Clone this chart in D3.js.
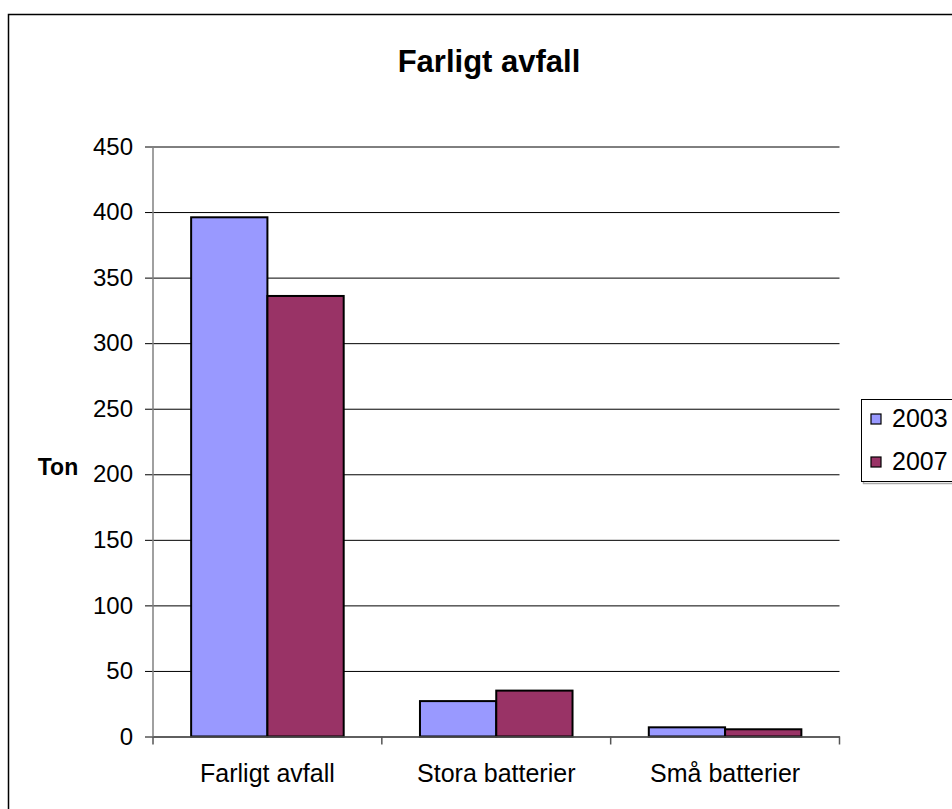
<!DOCTYPE html>
<html>
<head>
<meta charset="utf-8">
<script src="https://cdn.jsdelivr.net/npm/d3@7"></script>
<style>
  body { margin: 0; background: #fff; }
  text { font-family: "Liberation Sans", Arial, sans-serif; }
</style>
</head>
<body>
<script>
// chart data
var categories = ["Farligt avfall", "Stora batterier", "Små batterier"];
var years = ["2003", "2007"];
var values2003 = [396, 27, 7];
var values2007 = [336, 35, 5.5];
var yTicks = [0, 50, 100, 150, 200, 250, 300, 350, 400, 450];
var colors = ["#9999FF", "#993366"];

var w = 952, h = 809;

var svg = d3.select("body").append("svg")
    .attr("width", w)
    .attr("height", h);

svg.append("rect").attr("width", w).attr("height", h).attr("fill", "#fff");

// outer frame with a little shadow
svg.append("rect")
    .attr("x", 10.5).attr("y", 16.5)
    .attr("width", 1000).attr("height", 1000)
    .attr("fill", "none").attr("stroke", "#aaa").attr("stroke-width", 1.5);
svg.append("rect")
    .attr("x", 8.5).attr("y", 14.5)
    .attr("width", 1000).attr("height", 1000)
    .attr("fill", "#fff").attr("stroke", "#000").attr("stroke-width", 1.5);

// scales
var y = d3.scaleLinear().domain([0, 450]).range([736.5, 146.5]);
var x = d3.scaleBand().domain(categories).range([153, 839.5]).padding(0);
var xs = d3.scaleBand().domain(years)
    .range([x.bandwidth() / 6, x.bandwidth() * 5 / 6]);

// gridlines (with tick marks)
svg.append("g")
    .attr("transform", "translate(153,0)")
    .call(d3.axisLeft(y).tickValues(yTicks).tickSize(-(839.5 - 153)).tickFormat(""))
    .call(function(g) { g.select(".domain").remove(); })
    .call(function(g) { g.selectAll("line").attr("stroke", "#000").attr("x1", -8); });

// y tick labels
svg.append("g")
    .attr("transform", "translate(153,0)")
    .call(d3.axisLeft(y).tickValues(yTicks).tickSize(0).tickPadding(20))
    .call(function(g) { g.select(".domain").remove(); })
    .call(function(g) {
        g.selectAll("text")
            .attr("font-size", 24)
            .attr("fill", "#000")
            .style("font-family", "'Liberation Sans', Arial, sans-serif");
    });

// y axis line
svg.append("line")
    .attr("x1", 153).attr("x2", 153)
    .attr("y1", y(450)).attr("y2", y(0))
    .attr("stroke", "#808080").attr("stroke-width", 1.5);

// bars
var data = categories.map(function(c, i) {
    return { cat: c, vals: [values2003[i], values2007[i]] };
});

var groups = svg.selectAll(".grp")
    .data(data)
    .enter().append("g")
    .attr("class", "grp")
    .attr("transform", function(d) { return "translate(" + x(d.cat) + ",0)"; });

groups.selectAll("rect")
    .data(function(d) { return d.vals.map(function(v, i) { return { year: years[i], v: v, i: i }; }); })
    .enter().append("rect")
    .attr("x", function(d) { return xs(d.year); })
    .attr("width", xs.bandwidth())
    .attr("y", function(d) { return y(d.v); })
    .attr("height", function(d) { return y(0) - y(d.v); })
    .attr("fill", function(d) { return colors[d.i]; })
    .attr("stroke", "#000")
    .attr("stroke-width", 2);

// x axis
svg.append("g")
    .attr("transform", "translate(0," + y(0) + ")")
    .call(d3.axisBottom(x).tickSize(0).tickPadding(28))
    .call(function(g) { g.select(".domain").attr("stroke", "#555").attr("stroke-width", 1.5); })
    .call(function(g) {
        g.selectAll("text")
            .attr("font-size", 25)
            .attr("fill", "#000")
            .style("font-family", "'Liberation Sans', Arial, sans-serif");
    });

// x tick marks at band edges
svg.selectAll(".xtick")
    .data(categories.concat(["end"]))
    .enter().append("line")
    .attr("x1", function(d, i) { return 153 + i * x.bandwidth(); })
    .attr("x2", function(d, i) { return 153 + i * x.bandwidth(); })
    .attr("y1", y(0)).attr("y2", y(0) + 8)
    .attr("stroke", "#555").attr("stroke-width", 1.5);

// title
svg.append("text")
    .attr("x", 489).attr("y", 72)
    .attr("text-anchor", "middle")
    .attr("font-size", 31)
    .attr("font-weight", "bold")
    .text("Farligt avfall");

// y label
svg.append("text")
    .attr("x", 58).attr("y", 475)
    .attr("text-anchor", "middle")
    .attr("font-size", 23)
    .attr("font-weight", "bold")
    .text("Ton");

// legend
svg.append("rect")
    .attr("x", 863.5).attr("y", 401.5)
    .attr("width", 200).attr("height", 82)
    .attr("fill", "none").attr("stroke", "#aaa").attr("stroke-width", 1.5);
svg.append("rect")
    .attr("x", 861.5).attr("y", 399.5)
    .attr("width", 200).attr("height", 82)
    .attr("fill", "#fff").attr("stroke", "#000").attr("stroke-width", 1);

var leg = svg.selectAll(".leg")
    .data(years)
    .enter().append("g")
    .attr("class", "leg")
    .attr("transform", function(d, i) { return "translate(871," + (414 + i * 43) + ")"; });

leg.append("rect")
    .attr("width", 10).attr("height", 10)
    .attr("fill", function(d, i) { return colors[i]; })
    .attr("stroke", "#000").attr("stroke-width", 1.2);

leg.append("text")
    .attr("x", 21).attr("y", 13)
    .attr("font-size", 25)
    .text(function(d) { return d; });
</script>
</body>
</html>
